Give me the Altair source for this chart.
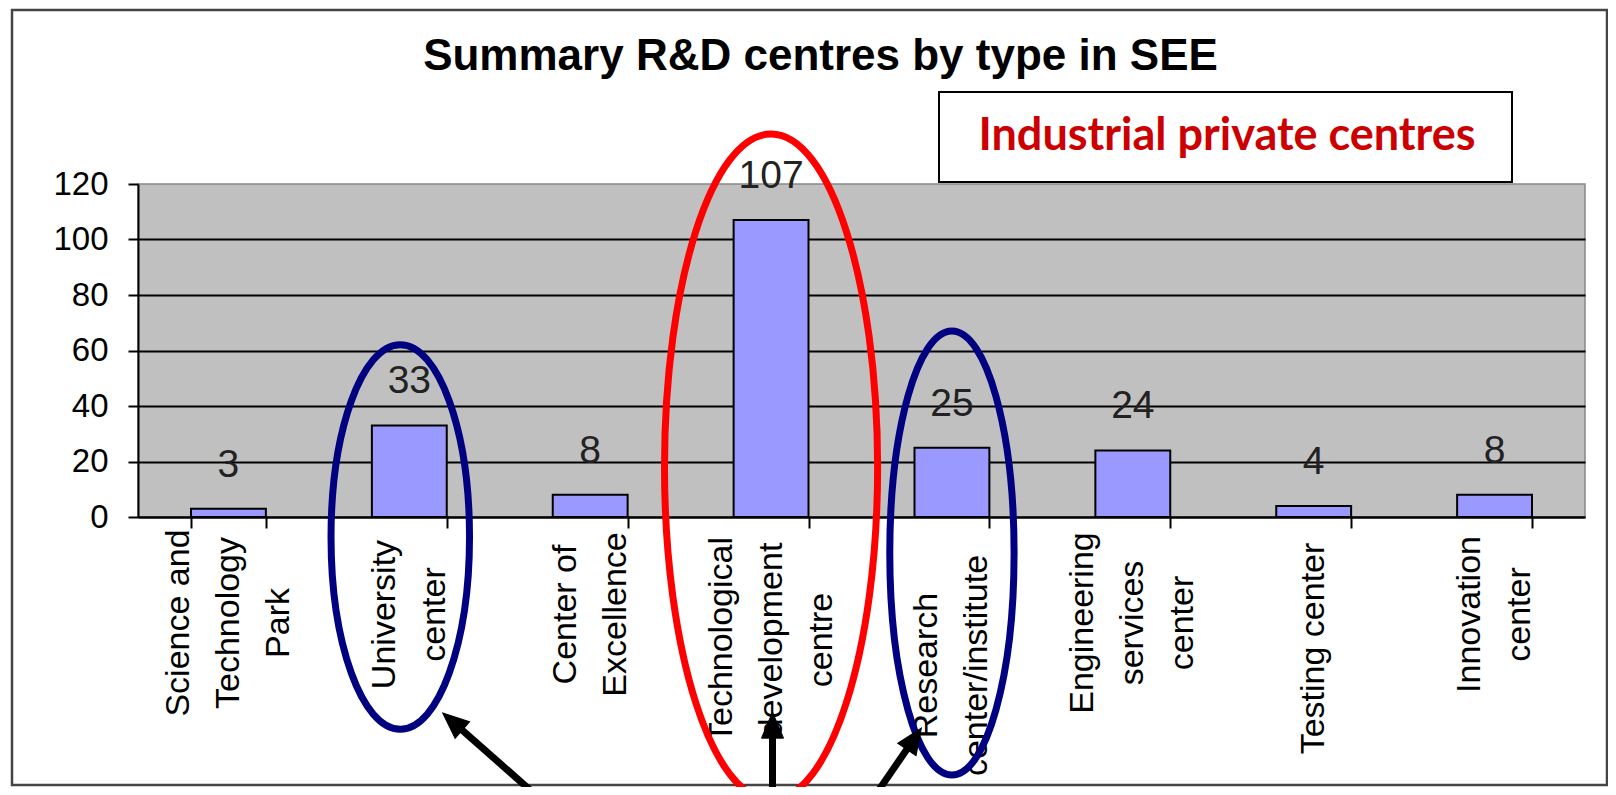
import altair as alt
import pandas as pd

# ---------------- data ----------------
CATEGORIES = [
    "Science and|Technology|Park",
    "University|center",
    "Center of|Excellence",
    "Technological|development|centre",
    "Research|center/institute",
    "Engineering|services|center",
    "Testing center",
    "Innovation|center",
]
VALUES = [3, 33, 8, 107, 25, 24, 4, 8]
Y_TICKS = [0, 20, 40, 60, 80, 100, 120]
TITLE = "Summary R&D centres by type in SEE"
BOX_TEXT = ["Industrial private centres"]

# annotation ellipses: x in band units (0..8), y in data units
ELLIPSE_X = [1.45, 3.50, 4.50]
ELLIPSE_Y = [-7.2, 18.0, -13.0]
ELLIPSE_RATIO = [0.36, 0.32, 0.28]
ELLIPSE_SIZE = [148000, 443556, 197136]
ELLIPSE_COLOR = ["#000080", "#FF0000", "#000080"]

# annotation arrows
ARROW_X = [2.199, 3.508, 4.077]
ARROW_Y = [-100.2, -100.2, -100.2]
ARROW_HEAD_X = [1.739, 3.508, 4.291]
ARROW_HEAD_Y = [-73.7, -75.0, -79.9]
ARROW_ANGLE = [311, 0, 34]

W, H = 1447, 333
FONT = "Liberation Sans"

df = pd.DataFrame({"cat": CATEGORIES, "value": VALUES})
ell = pd.DataFrame({
    "x": ELLIPSE_X, "y": ELLIPSE_Y, "size": ELLIPSE_SIZE, "color": ELLIPSE_COLOR,
    "shape": [f"M 0 -1 A {r} 1 0 1 1 0 1 A {r} 1 0 1 1 0 -1 Z" for r in ELLIPSE_RATIO],
})
arr = pd.DataFrame({"x": ARROW_X, "y": ARROW_Y, "hx": ARROW_HEAD_X, "hy": ARROW_HEAD_Y,
                    "angle": ARROW_ANGLE})

yscale = alt.Scale(domain=[0, 120], nice=False, zero=False)
xq = alt.Scale(domain=[0, 8], nice=False, zero=False)
xband = alt.Scale(paddingInner=0.586, paddingOuter=0.293)

LINES = "split(datum.label, '|')"
x_enc = alt.X(
    "cat:N", sort=CATEGORIES, title=None, scale=xband,
    axis=alt.Axis(
        labelExpr=LINES,
        labelAngle=-90, labelAlign="center", labelBaseline="middle",
        labelFont=FONT, labelFontSize=34, labelLineHeight=50, labelColor="black",
        labelOffset={"expr": f"-(length({LINES}) - 1) * 25"},
        labelPadding={"expr": (
            f"1 + 8.5 * max(length({LINES}[0]), length({LINES}[1] || ''), "
            f"length({LINES}[2] || ''))"
        )},
        labelLimit=500, labelOverlap=False,
        tickBand="extent", tickSize=11, tickWidth=2, tickColor="black",
        domainColor="black", domainWidth=2,
    ),
)
y_enc = alt.Y(
    "value:Q", scale=yscale, title=None,
    axis=alt.Axis(
        values=Y_TICKS, labelFont=FONT, labelFontSize=33, labelColor="black",
        labelPadding=20, tickSize=10, tickWidth=2, tickColor="black",
        domainColor="black", domainWidth=2,
        grid=True, gridColor="black", gridWidth=2,
        gridOpacity={"condition": {"test": "datum.value >= 120", "value": 0}, "value": 1},
    ),
)

frame = alt.Chart(pd.DataFrame({"t": BOX_TEXT})).mark_rect(
    fillOpacity=0, stroke="#444444", strokeWidth=2.5
).encode(x=alt.value(-126), x2=alt.value(1469), y=alt.value(-174), y2=alt.value(601))

bars = alt.Chart(df).mark_bar(fill="#9999FF", stroke="black", strokeWidth=2).encode(
    x=x_enc, y=y_enc
)
labels = alt.Chart(df).mark_text(
    dy=-44, baseline="middle", font=FONT, fontSize=39, color="#222222"
).encode(
    x=alt.X("cat:N", sort=CATEGORIES, scale=xband, axis=None),
    y=alt.Y("value:Q", scale=yscale),
    text="value:Q",
)

box = alt.Chart(pd.DataFrame({"t": BOX_TEXT})).mark_rect(
    fill="white", stroke="black", strokeWidth=2
).encode(x=alt.value(801), x2=alt.value(1374), y=alt.value(-92), y2=alt.value(-2))
box_text = alt.Chart(pd.DataFrame({"t": BOX_TEXT})).mark_text(
    font="Lato", fontWeight="bold", fontSize=45, color="#CC0000", baseline="middle"
).encode(x=alt.value(1089), y=alt.value(-48), text="t:N")

ellipses = alt.Chart(ell).mark_point(filled=False, strokeWidth=7, opacity=1).encode(
    x=alt.X("x:Q", scale=xq, axis=None),
    y=alt.Y("y:Q", scale=yscale),
    shape=alt.Shape("shape:N", scale=None),
    size=alt.Size("size:Q", scale=None),
    stroke=alt.Stroke("color:N", scale=None),
)
arrow_lines = alt.Chart(arr).mark_rule(strokeWidth=7, color="black").encode(
    x=alt.X("x:Q", scale=xq, axis=None),
    x2="hx:Q",
    y=alt.Y("y:Q", scale=yscale),
    y2="hy:Q",
)
arrow_heads = alt.Chart(arr).mark_point(
    filled=True, fill="black", stroke="black", strokeWidth=1, opacity=1,
    shape="M 0 -1 L 0.85 1 L -0.85 1 Z", size=676,
).encode(
    x=alt.X("hx:Q", scale=xq, axis=None),
    y=alt.Y("hy:Q", scale=yscale),
    angle=alt.Angle("angle:Q", scale=None),
)

chart = alt.layer(
    frame, bars, labels, box, box_text, ellipses, arrow_lines, arrow_heads
).resolve_scale(x="independent").properties(
    width=W, height=H,
    title=alt.TitleParams(
        TITLE, font=FONT, fontSize=44, fontWeight="bold", color="black",
        anchor="middle", frame="group", dx=-41, offset=-70,
    ),
    autosize=alt.AutoSizeParams(type="none"),
    padding={"left": 130, "top": 176, "right": 23, "bottom": 270},
    background="white",
).configure_view(fill="#C0C0C0", stroke="#888888", strokeWidth=1.5)

chart.save("out.html", embed_options={"renderer": "svg", "actions": False})
